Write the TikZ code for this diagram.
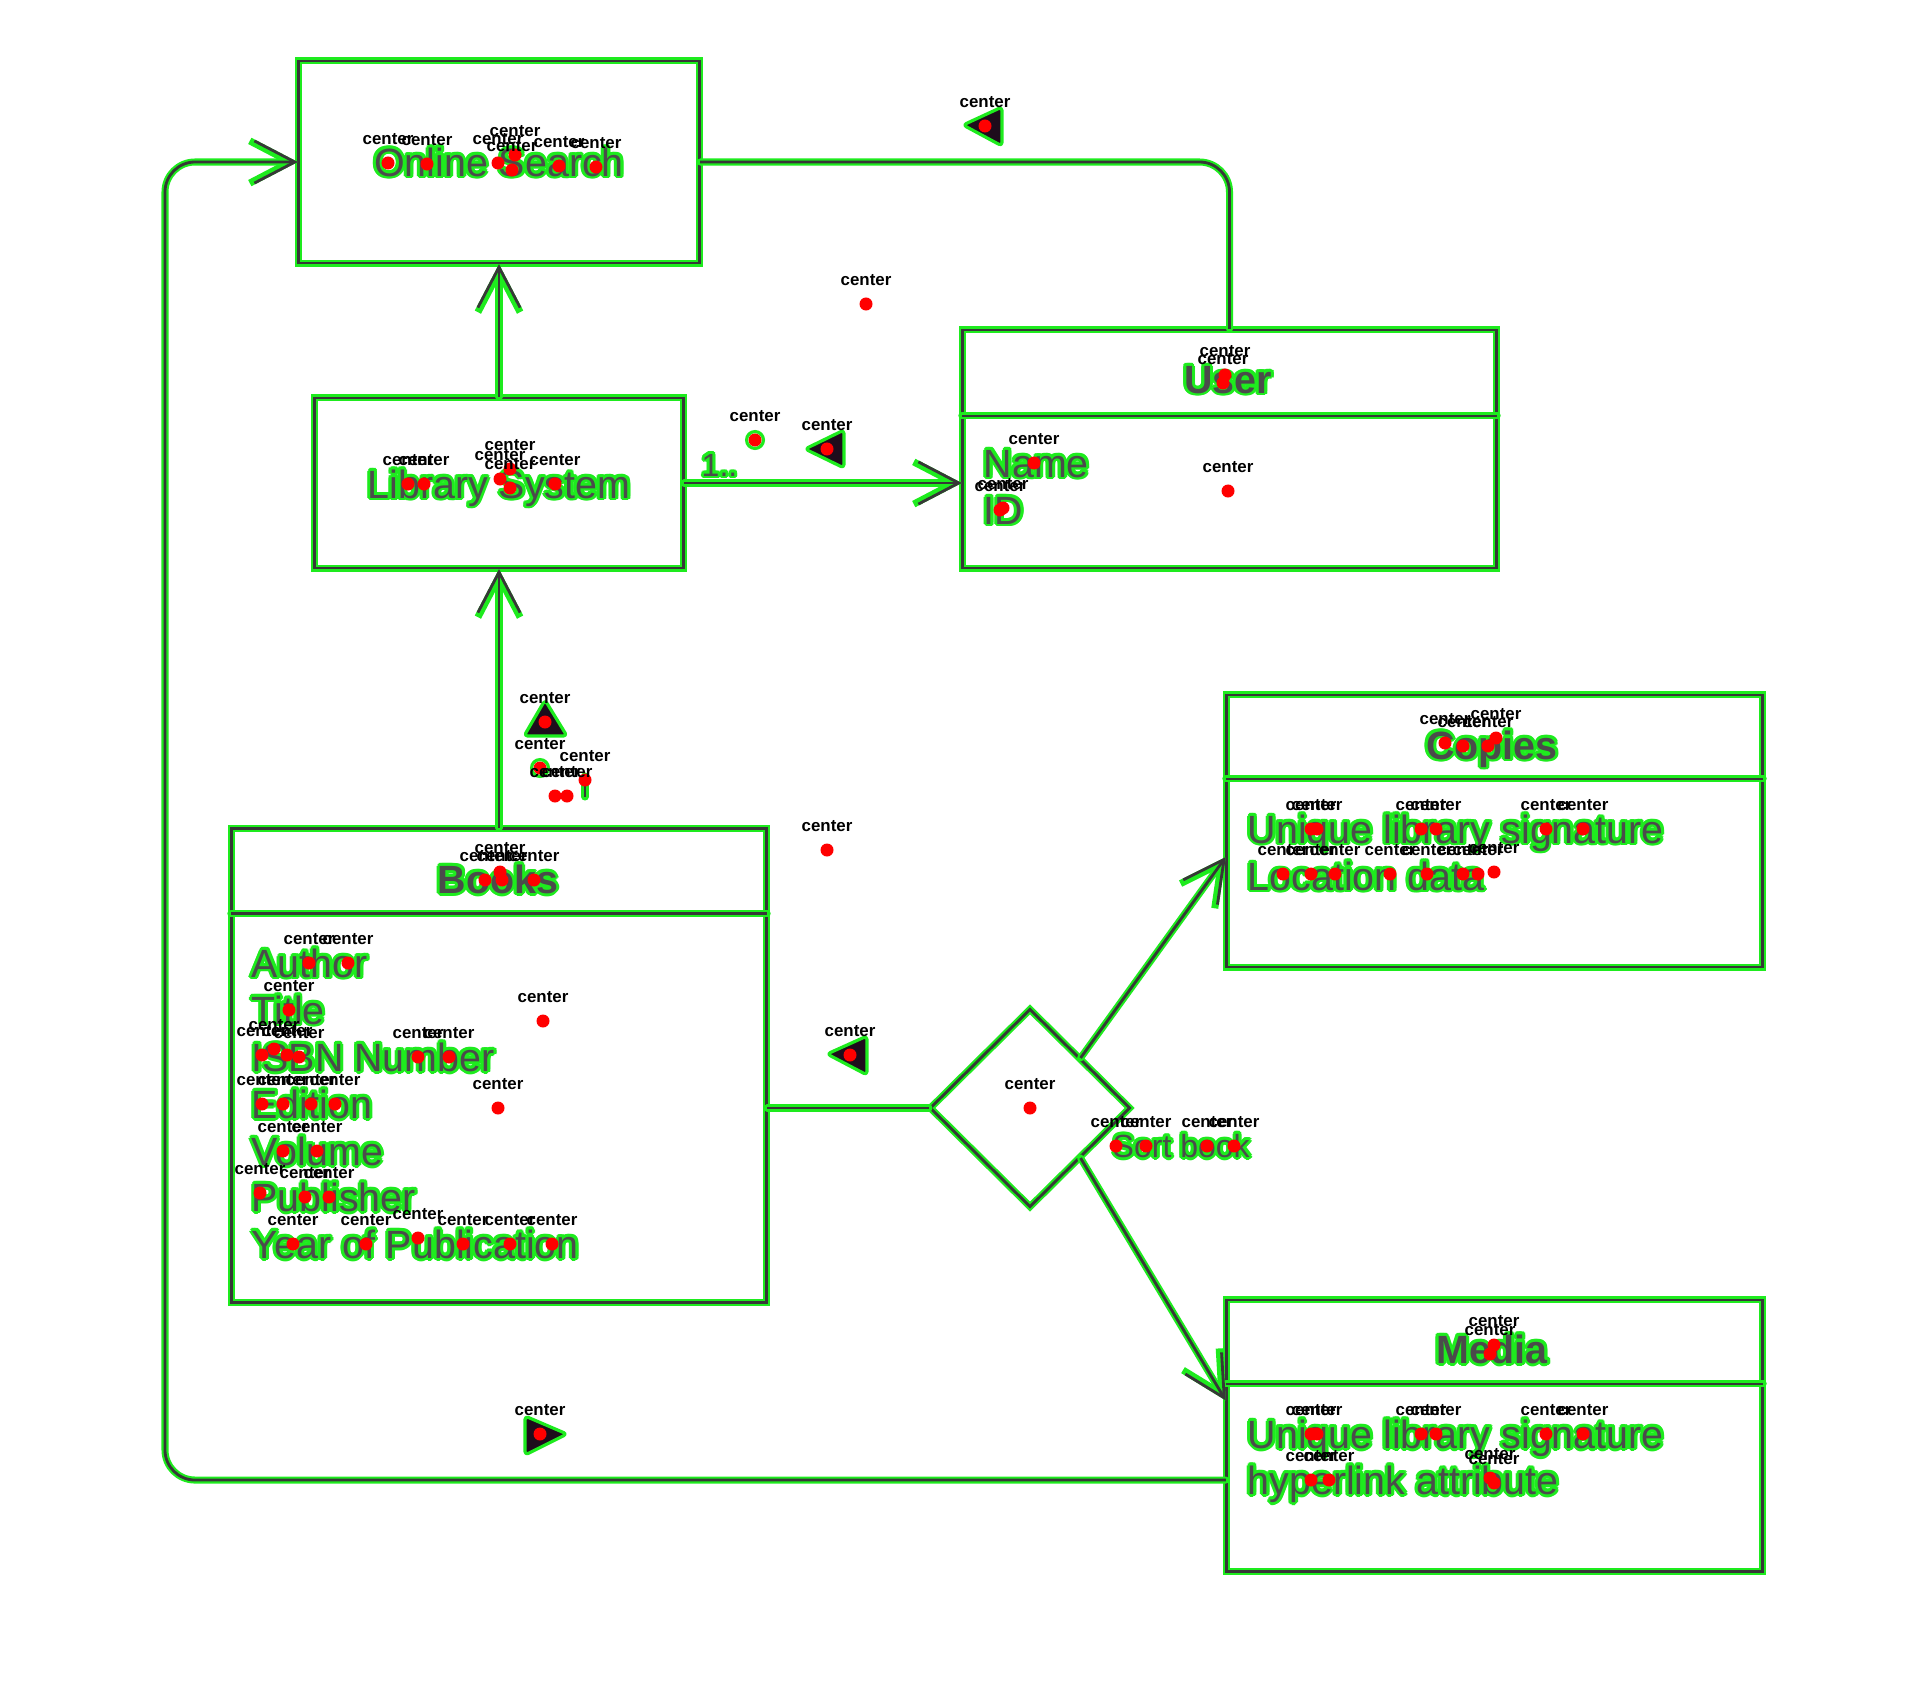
\documentclass[tikz,border=0pt]{standalone}
\usepackage{fontspec}
\setmainfont{Liberation Sans}
\usetikzlibrary{arrows.meta,shapes.geometric,calc}
\definecolor{glow}{RGB}{30,235,30}
\definecolor{core}{RGB}{55,55,55}
\definecolor{txt}{RGB}{75,75,75}
\definecolor{trifill}{RGB}{30,12,28}
\newcommand\gcopy[3]{\rlap{\kern#1\raisebox{#2}{\textcolor{glow}{#3}}}}
\newcommand\gt[1]{\leavevmode
  \gcopy{0.85pt}{0pt}{#1}\gcopy{0.74pt}{0.43pt}{#1}\gcopy{0.43pt}{0.74pt}{#1}%
  \gcopy{0pt}{0.85pt}{#1}\gcopy{-0.43pt}{0.74pt}{#1}\gcopy{-0.74pt}{0.43pt}{#1}%
  \gcopy{-0.85pt}{0pt}{#1}\gcopy{-0.74pt}{-0.43pt}{#1}\gcopy{-0.43pt}{-0.74pt}{#1}%
  \gcopy{0pt}{-0.85pt}{#1}\gcopy{0.43pt}{-0.74pt}{#1}\gcopy{0.74pt}{-0.43pt}{#1}%
  \textcolor{txt}{#1}}
\newcounter{ctrn}
\newcommand\conn[2][]{\draw[under,#1] #2; \draw[over,#1] #2;}
\newcommand\ctr[2]{\stepcounter{ctrn}\fill[red] (#1,#2) circle[radius=1.85pt];
  \node[ctrlab] (ctr\arabic{ctrn}) at (#1,#2-24) {center};}
\tikzset{
  box/.style={rectangle, draw=glow, double=core, line width=0.6pt, double distance=0.8pt, inner sep=0pt},
  under/.style={draw=glow, line width=2.0pt, line cap=round, line join=round},
  over/.style={draw=core, line width=0.8pt},
  arr/.style={-{Straight Barb[length=11.5pt,width=12pt]}},
  lbl/.style={font=\fontsize{11.2}{13}\selectfont, inner sep=0pt, anchor=base},
  ttl/.style={lbl, font=\fontsize{11.2}{13}\selectfont\bfseries},
  attr/.style={lbl, anchor=base west},
  small/.style={font=\fontsize{9.1}{11}\selectfont, inner sep=0pt, anchor=base west},
  ctrlab/.style={font=\fontsize{4.8}{5}\selectfont\bfseries, inner sep=0pt, text=black},
  tri/.style={fill=trifill, draw=glow, line width=0.9pt, line join=round, rounded corners=1pt},
}
\begin{document}
\begin{tikzpicture}[x=0.01cm, y=-0.01cm]
\useasboundingbox (0,0) rectangle (1912,1706);
% boxes
\node[box, minimum width=4cm, minimum height=2.02cm] (os) at (499,162) {};
\node[box, minimum width=3.68cm, minimum height=1.70cm] (lib) at (499,483) {};
\node[box, minimum width=5.33cm, minimum height=2.38cm] (user) at (1229.5,449) {};
\node[box, minimum width=5.34cm, minimum height=4.73cm] (books) at (499,1065.5) {};
\node[box, minimum width=5.35cm, minimum height=2.72cm] (copies) at (1494.5,831) {};
\node[box, minimum width=5.35cm, minimum height=2.71cm] (media) at (1494.5,1435.5) {};
\node[diamond, draw=glow, double=core, line width=0.6pt, double distance=0.8pt,
      minimum width=2cm, minimum height=1.98cm, inner sep=0pt] (dia) at (1030,1108) {};
% compartments
\conn{([yshift=-0.87cm]user.north west) -- ([yshift=-0.87cm]user.north east)}
\conn{([yshift=-0.86cm]books.north west) -- ([yshift=-0.86cm]books.north east)}
\conn{([yshift=-0.85cm]copies.north west) -- ([yshift=-0.85cm]copies.north east)}
\conn{([yshift=-0.85cm]media.north west) -- ([yshift=-0.85cm]media.north east)}
% connectors
\conn[arr]{(lib.north) -- (os.south)}
\conn[arr]{(books.north) -- (lib.south)}
\conn[arr]{(lib.east) -- (lib.east -| user.west)}
\conn[rounded corners=0.3cm]{(os.east) -| (user.north)}
\conn{(dia.west -| books.east) -- (dia.west)}
\conn[arr]{(dia.north east) -- ([yshift=-0.26cm]copies.west)}
\conn[arr]{(dia.south east) -- ([yshift=0.35cm]media.west)}
\coordinate (m0) at ([yshift=-0.445cm]media.west);
\coordinate (k2) at (165,162);
\conn[arr, rounded corners=0.3cm]{(m0) -| (k2) -- (os.west)}
% texts
\node[lbl] (tos) at (499,176) {\gt{Online Search}};
\node[lbl] (tlib) at (499,498) {\gt{Library System}};
\node[ttl] (tuser) at (1228,393) {\gt{User}};
\node[attr] (uname) at (983,477) {\gt{Name}};
\node[attr] (uid) at (983,524) {\gt{ID}};
\node[small] (mult) at (701,476) {\gt{1..}};
\node[ttl] (tbooks) at (498,893) {\gt{Books}};
\node[attr] (b1) at (251,977) {\gt{Author}};
\node[attr] (b2) at (251,1024) {\gt{Title}};
\node[attr] (b3) at (251,1071) {\gt{ISBN Number}};
\node[attr] (b4) at (251,1118) {\gt{Edition}};
\node[attr] (b5) at (251,1165) {\gt{Volume}};
\node[attr] (b6) at (251,1211) {\gt{Publisher}};
\node[attr] (b7) at (251,1258) {\gt{Year of Publication}};
\node[ttl] (tcop) at (1492,759) {\gt{Copies}};
\node[attr] (c1) at (1247,843) {\gt{Unique library signature}};
\node[attr] (c2) at (1247,890) {\gt{Location data}};
\node[ttl] (tmed) at (1492,1363) {\gt{Media}};
\node[attr] (d1) at (1247,1448) {\gt{Unique library signature}};
\node[attr] (d2) at (1247,1494) {\gt{hyperlink attribute}};
\node[small] (sort) at (1112,1157) {\gt{Sort book}};
% direction markers
\filldraw[tri] (963,125) -- (1002,107) -- (1002,146) -- cycle;
\filldraw[tri] (805,449) -- (844,430) -- (844,468) -- cycle;
\filldraw[tri] (545,700) -- (567,736) -- (524,736) -- cycle;
\filldraw[tri] (827,1054) -- (867,1036) -- (867,1075) -- cycle;
\filldraw[tri] (525,1416) -- (567,1434) -- (525,1455) -- cycle;
% small marks
\draw[glow, line width=0.9pt] (540,768) circle[radius=2.4pt];
\draw[glow, line width=0.9pt] (755,440) circle[radius=2.4pt];
\conn{(585,776) -- (585,797)}
% overlay
\ctr{388}{163}\ctr{427}{164}\ctr{498}{163}\ctr{515}{155}\ctr{512}{170}\ctr{559}{166}\ctr{596}{167}
\ctr{408}{484}\ctr{424}{484}\ctr{500}{479}\ctr{510}{469}\ctr{510}{488}\ctr{555}{484}
\ctr{755}{440}\ctr{827}{449}\ctr{866}{304}\ctr{985}{126}
\ctr{1225}{375}\ctr{1223}{383}\ctr{1034}{463}\ctr{1000}{510}\ctr{1003}{508}\ctr{1228}{491}
\ctr{545}{722}\ctr{540}{768}\ctr{585}{780}\ctr{555}{796}\ctr{567}{796}\ctr{827}{850}
\ctr{485}{880}\ctr{500}{872}\ctr{502}{880}\ctr{534}{880}
\ctr{309}{963}\ctr{348}{963}\ctr{289}{1010}
\ctr{262}{1055}\ctr{274}{1049}\ctr{287}{1055}\ctr{299}{1057}\ctr{418}{1057}\ctr{449}{1057}\ctr{543}{1021}
\ctr{262}{1104}\ctr{283}{1104}\ctr{311}{1104}\ctr{335}{1104}\ctr{498}{1108}
\ctr{283}{1151}\ctr{317}{1151}\ctr{260}{1193}\ctr{305}{1197}\ctr{329}{1197}
\ctr{293}{1244}\ctr{366}{1244}\ctr{418}{1238}\ctr{463}{1244}\ctr{510}{1244}\ctr{552}{1244}
\ctr{1030}{1108}\ctr{850}{1055}
\ctr{1116}{1146}\ctr{1146}{1146}\ctr{1207}{1146}\ctr{1234}{1146}
\ctr{1445}{743}\ctr{1463}{746}\ctr{1488}{746}\ctr{1496}{738}
\ctr{1311}{829}\ctr{1317}{829}\ctr{1421}{829}\ctr{1436}{829}\ctr{1546}{829}\ctr{1583}{829}
\ctr{1283}{874}\ctr{1311}{874}\ctr{1335}{874}\ctr{1390}{874}\ctr{1427}{874}\ctr{1463}{874}\ctr{1478}{874}\ctr{1494}{872}
\ctr{1494}{1345}\ctr{1490}{1354}
\ctr{1311}{1434}\ctr{1317}{1434}\ctr{1421}{1434}\ctr{1436}{1434}\ctr{1546}{1434}\ctr{1583}{1434}
\ctr{1311}{1480}\ctr{1329}{1480}\ctr{1490}{1478}\ctr{1494}{1483}
\ctr{540}{1434}
\end{tikzpicture}
\end{document}
